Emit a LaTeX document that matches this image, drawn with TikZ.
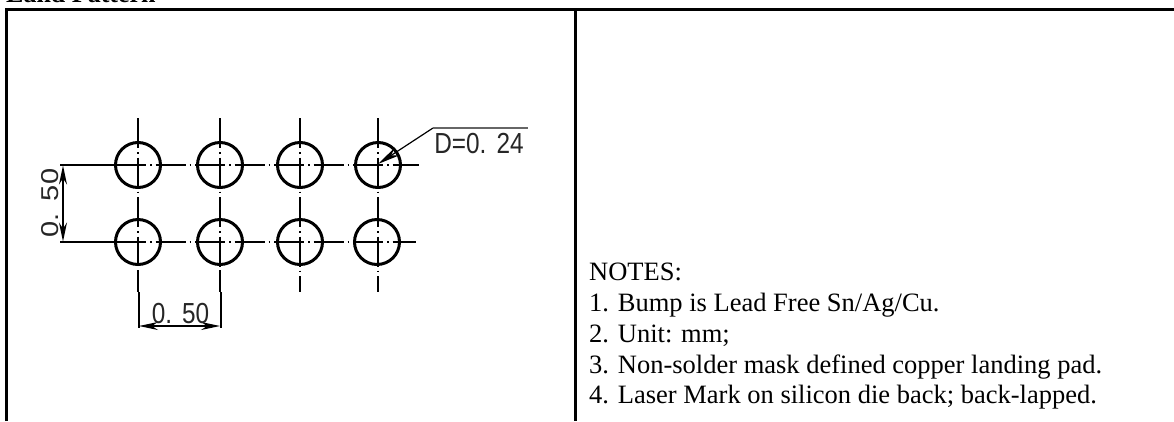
\documentclass[tikz,border=0pt]{standalone}
\usepackage{fontspec}
\setmainfont{Liberation Serif}
\setsansfont{Liberation Sans}
\usetikzlibrary{arrows.meta}
\tikzset{
    frameline/.style={line width=3pt},
    padcircle/.style={line width=3pt},
    centerline/.style={line width=1.2pt, dash pattern=on 30pt off 4pt on 1.5pt off 4pt},
    dimline/.style={line width=1.2pt, >={Stealth[length=19pt,width=8pt]}},
    extline/.style={line width=2pt},
    dimtext/.style={font=\sffamily\fontsize{29}{29}\selectfont, xscale=0.84, inner sep=0pt, text=black!85},
    notetext/.style={font=\fontsize{26.5}{30}\selectfont, anchor=base west, inner sep=0pt}
}
\begin{document}
\begin{tikzpicture}[x=1pt, y=-1pt]
    \useasboundingbox (0, 0) rectangle (1174, 421);
    \node (title) [notetext, font=\bfseries\fontsize{26}{30}\selectfont] at (6, 2) {Land Pattern};
    \draw [frameline] (6.5, 421) -- (6.5, 9.5) -- (1174, 9.5);
    \draw [frameline] (575, 9.5) -- (575, 421);
    % center lines
    \draw [centerline] (138, 118) -- (138, 266);
    \draw [centerline] (220, 118) -- (220, 268);
    \draw [centerline] (300, 118) -- (300, 292);
    \draw [centerline] (378, 118) -- (378, 292);
    \draw [centerline] (116, 165) -- (419, 165);
    \draw [centerline] (116, 242) -- (416, 242);
    % pads
    \draw [padcircle] (138, 165) circle (22.5);
    \draw [padcircle] (220, 165) circle (22.5);
    \draw [padcircle] (300, 165) circle (22.5);
    \draw [padcircle] (378, 165) circle (22.5);
    \draw [padcircle] (138, 242) circle (22.5);
    \draw [padcircle] (220, 242) circle (22.5);
    \draw [padcircle] (300, 242) circle (22.5);
    \draw [padcircle] (377, 242) circle (22.5);
    % vertical pitch
    \draw [extline] (60, 165) -- (116, 165);
    \draw [extline] (60, 242) -- (116, 242);
    \draw [dimline, <->] (63, 165.5) -- (63, 241.5);
    \node (pitchy) [dimtext, rotate=90] at (50.5, 203) {0.\hspace{12pt}50};
    % horizontal pitch
    \draw [line width=1.2pt] (138, 270) -- (138, 292);
    \draw [line width=1.2pt] (220, 270) -- (220, 292);
    \draw [extline] (138.5, 292) -- (138.5, 328);
    \draw [extline] (220.5, 292) -- (220.5, 328);
    \draw [dimline, <->] (139, 326) -- (220, 326);
    \node (pitchx) [dimtext] at (180.5, 314) {0.\hspace{12pt}50};
    % diameter leader
    \draw [line width=1.2pt, >={Stealth[length=23pt,width=9pt]}, <-] (378, 164) -- (433, 128);
    \draw [line width=1.8pt, black!60] (433, 128) -- (528, 128);
    \node (diam) [dimtext] at (479, 144) {D=0.\hspace{12pt}24};
    % notes
    \node (notes) [notetext] at (589, 280) {NOTES:};
    \node (noteone) [notetext] at (589, 311) {1. Bump is Lead Free Sn/Ag/Cu.};
    \node (notetwo) [notetext] at (589, 342) {2. Unit: mm;};
    \node (notethree) [notetext] at (589, 373) {3. Non-solder mask defined copper landing pad.};
    \node (notefour) [notetext] at (589, 403) {4. Laser Mark on silicon die back; back-lapped.};
\end{tikzpicture}
\end{document}
